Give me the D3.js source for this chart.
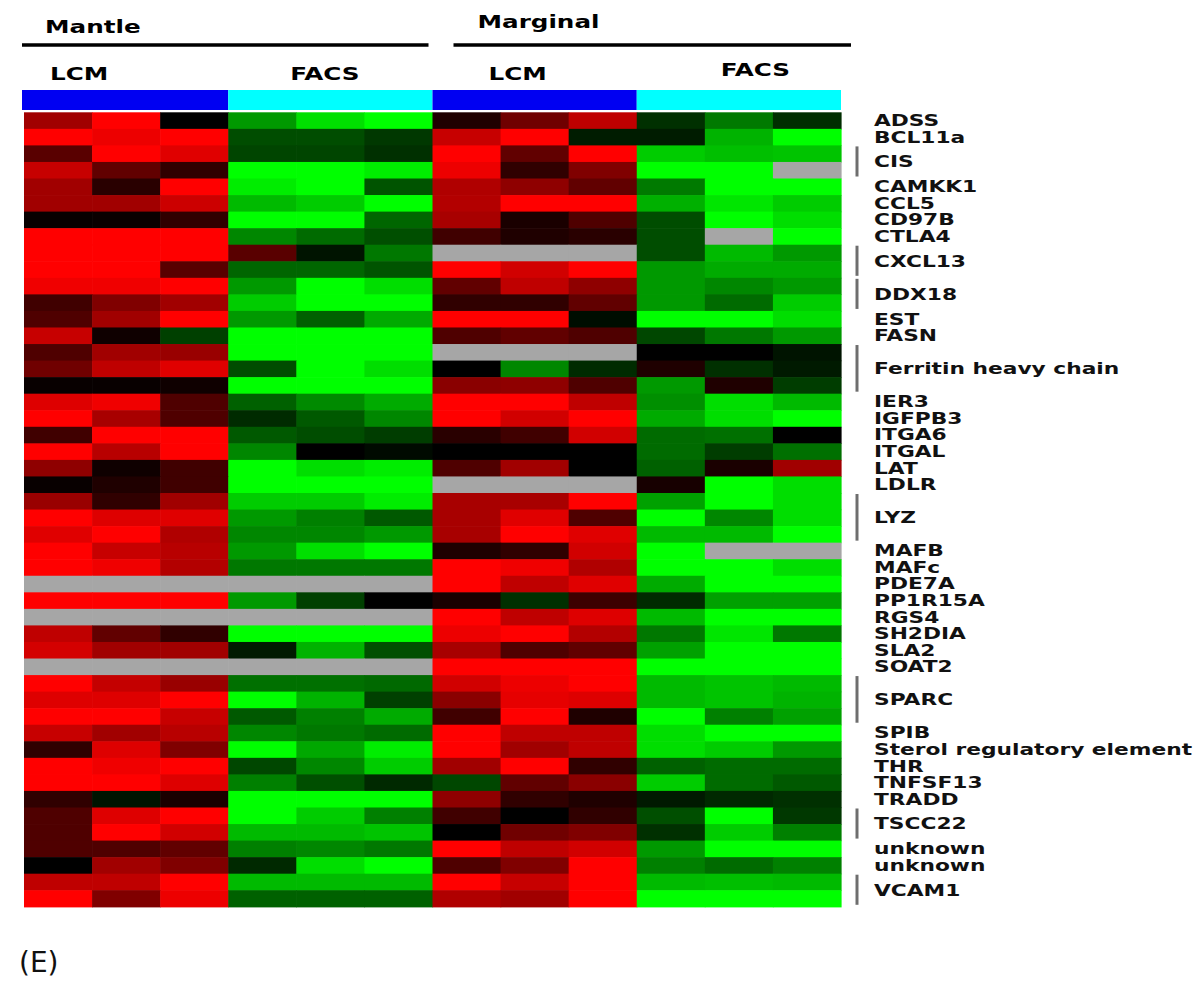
<!DOCTYPE html>
<html><head><meta charset="utf-8">
<script src="https://cdn.jsdelivr.net/npm/d3@7"></script>
<style>html,body{margin:0;padding:0;background:#fff;} svg{display:block;}</style>
</head><body>
<svg id="chart" width="1200" height="981"></svg>
<script>
// ---------------- DATA ----------------
const tissues = ["Mantle", "Marginal"];
const methods = ["LCM", "FACS"];
const replicates = [1, 2, 3];
const panelLabel = "(E)";

const genes = ["ADSS","BCL11a","CIS","CAMKK1","CCL5","CD97B","CTLA4","CXCL13","DDX18","EST","FASN",
  "Ferritin heavy chain","IER3","IGFPB3","ITGA6","ITGAL","LAT","LDLR","LYZ","MAFB","MAFc","PDE7A",
  "PP1R15A","RGS4","SH2DIA","SLA2","SOAT2","SPARC","SPIB","Sterol regulatory element","THR","TNFSF13",
  "TRADD","TSCC22","unknown","unknown","VCAM1"];
// number of probe rows per gene
const geneRowCounts = [1,1,2,1,1,1,1,2,2,1,1,3,1,1,1,1,1,1,3,1,1,1,1,1,1,1,1,3,1,1,1,1,1,2,1,1,2];

// relative expression (+ = red / up, - = green / down, null = missing), one triplet per probe row
const mantleLCM = [
  [0.63,1,0],[1,0.93,1],[0.35,1,0.88],[0.78,0.38,0.19],[0.63,0.16,1],[0.63,0.63,0.8],[0.03,0.04,0.19],
  [1,1,1],[1,1,1],[1,1,0.35],[0.94,0.94,1],[0.25,0.5,0.63],[0.31,0.63,1],[0.78,0.06,-0.25],
  [0.31,0.63,0.6],[0.44,0.75,0.88],[0.03,0.03,0.06],[0.87,0.94,0.31],[1,0.66,0.31],[0.25,1,1],
  [1,0.72,1],[0.56,0.06,0.25],[0.03,0.12,0.25],[0.6,0.19,0.63],[1,0.87,0.88],[0.88,1,0.69],
  [1,0.78,0.72],[1,0.94,0.7],[null,null,null],[1,1,1],[null,null,null],[0.75,0.38,0.19],
  [0.83,0.63,0.63],[null,null,null],[1,0.77,0.6],[0.87,0.87,1],[1,1,0.78],[0.78,0.63,0.72],
  [0.19,0.87,0.5],[1,0.94,1],[1,1,0.87],[0.19,-0.08,0.1],[0.31,0.87,1],[0.31,1,0.82],
  [0.31,0.31,0.38],[0,0.63,0.5],[0.75,0.75,1],[1,0.5,0.93]
];
const mantleFACS = [
  [-0.6,-0.88,-1],[-0.3,-0.3,-0.22],[-0.27,-0.27,-0.19],[-1,-1,-0.93],[-0.93,-1,-0.33],[-0.73,-0.8,-1],
  [-1,-1,-0.4],[-0.53,-0.42,-0.31],[0.35,-0.08,-0.47],[-0.4,-0.4,-0.33],[-0.6,-1,-0.87],[-0.8,-1,-1],
  [-0.6,-0.38,-0.67],[-1,-1,-1],[-1,-1,-1],[-0.3,-1,-0.87],[-1,-1,-1],[-0.38,-0.54,-0.67],
  [-0.17,-0.35,-0.53],[-0.35,-0.3,-0.24],[-0.53,0,-0.04],[-1,-0.87,-0.93],[-1,-1,-1],[-0.8,-0.8,-0.93],
  [-0.6,-0.5,-0.35],[-0.53,-0.53,-0.6],[-0.6,-0.88,-1],[-0.47,-0.47,-0.47],[null,null,null],
  [-0.6,-0.25,0],[null,null,null],[-1,-1,-1],[-0.1,-0.7,-0.31],[null,null,null],[-0.44,-0.44,-0.41],
  [-1,-0.7,-0.25],[-0.35,-0.5,-0.67],[-0.53,-0.47,-0.42],[-1,-0.66,-0.93],[-0.28,-0.53,-0.8],
  [-0.5,-0.31,-0.16],[-1,-1,-1],[-1,-0.8,-0.5],[-0.73,-0.73,-0.77],[-0.5,-0.53,-0.47],
  [-0.16,-0.87,-1],[-0.73,-0.73,-0.73],[-0.38,-0.38,-0.38]
];
const marginalLCM = [
  [0.12,0.44,0.75],[0.78,1,-0.11],[1,0.38,1],[0.93,0.19,0.5],[0.69,0.56,0.38],[0.7,1,1],
  [0.66,0.1,0.31],[0.25,0.12,0.16],[null,null,null],[1,0.82,1],[0.38,0.75,0.56],[0.19,0.19,0.38],
  [1,1,-0.05],[0.31,0.38,0.31],[null,null,null],[0,-0.53,-0.17],[0.54,0.56,0.31],[1,1,0.75],
  [1,0.82,1],[0.16,0.25,0.82],[0,0,0],[0.31,0.63,0],[null,null,null],[0.66,0.66,1],
  [0.66,0.88,0.31],[0.66,1,0.88],[0.12,0.19,0.82],[1,0.94,0.69],[1,0.75,0.88],[0.1,-0.19,0.24],
  [1,0.75,0.87],[0.93,1,0.7],[0.66,0.31,0.38],[1,1,1],[0.82,0.93,1],[0.54,0.9,0.87],
  [0.25,1,0.12],[1,0.75,0.75],[1,0.63,0.75],[0.63,1,0.19],[-0.28,0.38,0.54],[0.56,0.19,0.12],
  [0.25,0,0.19],[0,0.44,0.5],[1,0.75,0.82],[0.31,0.5,1],[1,0.78,1],[0.69,0.63,1]
];
const marginalFACS = [
  [-0.19,-0.48,-0.18],[-0.11,-0.7,-1],[-0.8,-0.75,-0.77],[-1,-1,null],[-0.48,-1,-1],[-0.69,-0.9,-0.8],
  [-0.3,-1,-0.87],[-0.3,null,-1],[-0.3,-0.73,-0.6],[-0.6,-0.67,-0.67],[-0.6,-0.53,-0.6],
  [-0.6,-0.42,-0.8],[-1,-1,-0.87],[-0.28,-0.47,-0.6],[0,0,-0.08],[0.12,-0.19,-0.1],[-0.6,0.12,-0.24],
  [-0.56,-0.87,-0.73],[-0.67,-0.87,-1],[-0.42,-0.44,0],[-0.42,-0.24,-0.44],[-0.38,0.1,0.63],
  [0.09,-1,-0.87],[-0.63,-1,-0.87],[-1,-0.53,-0.87],[-0.73,-0.73,-1],[-1,null,null],[-1,-1,-0.87],
  [-0.67,-1,-1],[-0.17,-0.63,-0.63],[-0.73,-1,-1],[-0.47,-0.9,-0.47],[-0.63,-1,-1],[-1,-1,-1],
  [-0.73,-0.77,-0.73],[-0.73,-0.77,-0.7],[-1,-0.5,-0.63],[-0.87,-1,-1],[-0.87,-0.8,-0.6],
  [-0.38,-0.42,-0.42],[-0.8,-0.42,-0.35],[-0.1,-0.16,-0.19],[-0.31,-1,-0.22],[-0.19,-0.8,-0.5],
  [-0.6,-1,-1],[-0.5,-0.42,-0.5],[-0.73,-0.75,-0.73],[-1,-1,-1]
];

// ---------------- LAYOUT ----------------
const heat = {x0: 24, x1: 841, y0: 112.3, y1: 906.8};
const groupBar = {y: 90, h: 20};
const labelX = 874, bracketX = 857;
const textStretch = 1.45;
const tissueLabel = {dx: [21, 45], y: [33, 28]};
const methodLabel = {dx: [[26, 62], [56, 84]], y: [[80, 80], [80, 76]]};
const tissueLine = {y: 45, ext: [[-2, -4], [21, 10]]};

const svg = d3.select("#chart");

// sample columns
const samples = [];
tissues.forEach(t => methods.forEach(m => replicates.forEach(r => samples.push({t, m, r, id: `${t}-${m}-${r}`}))));
const blocks = [mantleLCM, mantleFACS, marginalLCM, marginalFACS];
const nRows = mantleLCM.length;
const matrix = d3.range(nRows).map(i => blocks.flatMap(b => b[i]));

const x = d3.scaleBand().domain(samples.map(s => s.id)).range([heat.x0, heat.x1]).padding(0);
const y = d3.scaleBand().domain(d3.range(nRows)).range([heat.y0, heat.y1]).padding(0);
const color = d3.scaleLinear().domain([-1, 0, 1]).range(["#00ff00", "#000000", "#ff0000"]).clamp(true);
const missing = "#a6a6a6";

// heatmap cells
const cells = [];
matrix.forEach((row, i) => row.forEach((v, j) => cells.push({i, j, v})));
svg.append("g").selectAll("rect").data(cells).join("rect")
  .attr("x", d => x(samples[d.j].id))
  .attr("y", d => y(d.i))
  .attr("width", x.bandwidth() + 0.6)
  .attr("height", y.bandwidth() + 0.6)
  .attr("fill", d => d.v === null ? missing : color(d.v));

// group colour bar
const groups = [];
tissues.forEach((t, ti) => methods.forEach((m, mi) => {
  const ids = samples.filter(s => s.t === t && s.m === m).map(s => s.id);
  groups.push({t, m, ti, mi, xs: x(ids[0]), xe: x(ids[ids.length - 1]) + x.bandwidth()});
}));
svg.append("g").selectAll("rect").data(groups).join("rect")
  .attr("x", d => d.xs - (d.ti === 0 && d.mi === 0 ? 2 : 0))
  .attr("y", groupBar.y).attr("height", groupBar.h)
  .attr("width", d => d.xe - d.xs + (d.ti === 0 && d.mi === 0 ? 2 : 0))
  .attr("fill", d => d.m === "LCM" ? "#0000f2" : "#00ffff");

// tissue lines + labels
const tissueExt = tissues.map((t, ti) => {
  const g = groups.filter(d => d.ti === ti);
  return {t, ti, xs: d3.min(g, d => d.xs), xe: d3.max(g, d => d.xe)};
});
svg.append("g").selectAll("line").data(tissueExt).join("line")
  .attr("x1", d => d.xs + tissueLine.ext[d.ti][0])
  .attr("x2", d => d.xe + tissueLine.ext[d.ti][1])
  .attr("y1", tissueLine.y).attr("y2", tissueLine.y)
  .attr("stroke", "#000").attr("stroke-width", 3.5);

const font = "'DejaVu Sans', Verdana, sans-serif";
svg.append("g").selectAll("text").data(tissueExt).join("text")
  .attr("transform", d => `translate(${d.xs + tissueLabel.dx[d.ti]},${tissueLabel.y[d.ti]}) scale(${textStretch},1)`)
  .attr("font-family", font).attr("font-weight", "bold").attr("font-size", 17)
  .text(d => d.t);

svg.append("g").selectAll("text").data(groups).join("text")
  .attr("transform", d => `translate(${d.xs + methodLabel.dx[d.ti][d.mi]},${methodLabel.y[d.ti][d.mi]}) scale(${textStretch},1)`)
  .attr("font-family", font).attr("font-weight", "bold").attr("font-size", 17)
  .text(d => d.m);

// gene labels + brackets
let start = 0;
const geneSpans = genes.map((g, k) => {
  const s = start; start += geneRowCounts[k];
  return {name: g, top: y(s), bottom: y(s + geneRowCounts[k] - 1) + y.bandwidth(), n: geneRowCounts[k]};
});
svg.append("g").selectAll("line").data(geneSpans.filter(d => d.n > 1)).join("line")
  .attr("x1", bracketX).attr("x2", bracketX)
  .attr("y1", d => d.top + 1).attr("y2", d => d.bottom - 2)
  .attr("stroke", "#6e6e6e").attr("stroke-width", 3);
svg.append("g").selectAll("text").data(geneSpans).join("text")
  .attr("transform", d => `translate(${labelX},${(d.top + d.bottom) / 2}) scale(${textStretch},1)`)
  .attr("dy", "0.36em")
  .attr("font-family", font).attr("font-weight", "bold").attr("font-size", 15)
  .attr("fill", "#111")
  .text(d => d.name);

// panel label
svg.append("text").attr("x", 19).attr("y", 972)
  .attr("font-family", font).attr("font-size", 28).attr("fill", "#111")
  .text(panelLabel);
</script>
</body></html>
